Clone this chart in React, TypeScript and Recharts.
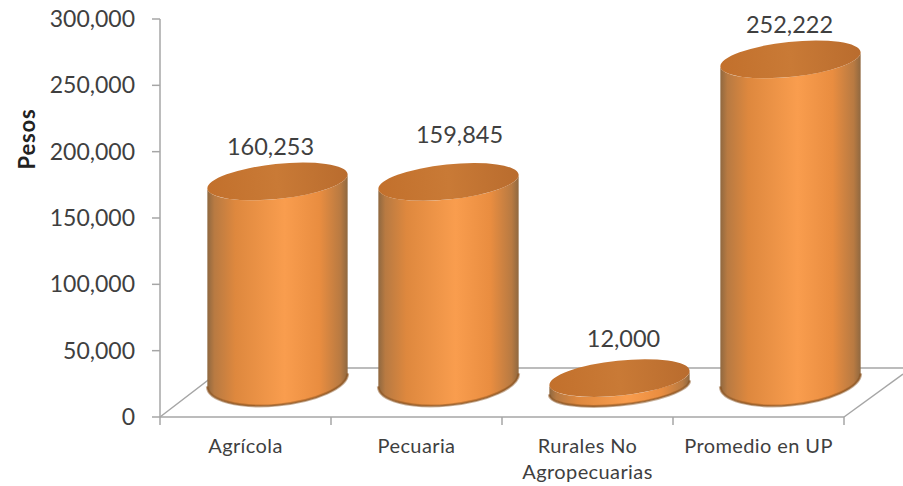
import { Bar, BarChart, LabelList, XAxis, YAxis, usePlotArea } from 'recharts';

const categories = ['Agrícola', 'Pecuaria', 'Rurales No Agropecuarias', 'Promedio en UP'];
const values = [160253, 159845, 12000, 252222];
const yTicks = [0, 50000, 100000, 150000, 200000, 250000, 300000];

const data = categories.map((name, i) => ({ name, value: values[i] }));

const GRID = '#A6A6A6';
const TEXT = '#3F3F3F';
const FONT = 'Lato, "Open Sans", sans-serif';

// 3d look: the cylinders sit back and up from the flat axis position
const DEPTH_X = 32;
const DEPTH_Y = 23;
const TILT = -6;
const RY_TOP = 17.5;
const BAND = 171;
// data labels were dragged by hand in the original
const LABEL_NUDGE = [[-7, -32], [11, -45], [4, -37], [-1, -32]];

const fmt = (v: number) => v.toLocaleString('en-US');

// where the side walls touch a tilted ellipse
const tangent = (rx: number, ry: number) => {
  const t = (-TILT * Math.PI) / 180;
  const ext = Math.sqrt(rx * rx * Math.cos(t) ** 2 + ry * ry * Math.sin(t) ** 2);
  return { ext, dy: ((rx * rx - ry * ry) * Math.sin(t) * Math.cos(t)) / ext };
};

// floor of the 3d chart + axis title
function Floor() {
  const plot = usePlotArea();
  if (!plot) return null;
  const bottom = plot.y + plot.height;
  const left = plot.x;
  const right = plot.x + plot.width;
  const backY = bottom - 49;
  return (
    <g fill="none" stroke={GRID} strokeWidth={1.5}>
      <path d={`M${left} ${bottom} L${left + 64} ${backY} L903 ${backY}`} />
      <path d={`M${right} ${bottom} L${right + 59} ${bottom - 43}`} />
      <text
        x={0}
        y={0}
        transform="translate(35 139) rotate(-90)"
        textAnchor="middle"
        fontFamily={FONT}
        fontWeight={700}
        fontSize={22}
        letterSpacing={0.8}
        fill="#222"
        stroke="none"
      >
        Pesos
      </text>
    </g>
  );
}

function Cylinder({ x, y, width, height }: any) {
  const cx = x + width / 2 + DEPTH_X;
  const rx = width / 2;
  const topY = y - DEPTH_Y;
  // tall cylinders show a rounder base than the flat disc
  const ryBase = height > 100 ? 25 : RY_TOP;
  const baseY = y + height - 12 - ryBase;
  const top = tangent(rx, RY_TOP);
  const base = tangent(rx, ryBase);
  const lx = cx - top.ext;
  const rr = cx + top.ext;
  const blx = cx - base.ext;
  const brr = cx + base.ext;
  const body = `M${lx} ${topY + top.dy} L${blx} ${baseY + base.dy} A${rx} ${ryBase} ${TILT} 0 0 ${brr} ${baseY - base.dy} L${rr} ${topY - top.dy} A${rx} ${RY_TOP} ${TILT} 0 1 ${lx} ${topY + top.dy} Z`;
  const edge = `M${blx} ${baseY + base.dy} A${rx} ${ryBase} ${TILT} 0 0 ${brr} ${baseY - base.dy}`;
  return (
    <g>
      <path d={body} fill="url(#cylBody)" />
      <path d={edge} fill="none" stroke="#8A5220" strokeWidth={3} strokeOpacity={0.45} />
      <path d={edge} fill="none" stroke="#8A5220" strokeWidth={1.2} strokeOpacity={0.7} />
      <ellipse
        cx={cx}
        cy={topY}
        rx={rx}
        ry={RY_TOP}
        fill="url(#cylTop)"
        transform={`rotate(${TILT} ${cx} ${topY})`}
      />
    </g>
  );
}

function CategoryTick({ x, y, payload, index }: any) {
  const words = String(payload.value).split(' ');
  const lines = words.length === 3 && words[2].length > 10 ? [words.slice(0, 2).join(' '), words[2]] : [payload.value];
  const isLast = index === categories.length - 1;
  return (
    <g>
      <line x1={x - BAND / 2} x2={x - BAND / 2} y1={y} y2={y + 8} stroke={GRID} strokeWidth={1.5} />
      {isLast && <line x1={x + BAND / 2} x2={x + BAND / 2} y1={y} y2={y + 8} stroke={GRID} strokeWidth={1.5} />}
      {lines.map((line: string, i: number) => (
        <text
          key={i}
          x={x}
          y={y + 36 + i * 26}
          textAnchor="middle"
          fontFamily={FONT}
          fontSize={20}
          letterSpacing={0.4}
          fill={TEXT}
        >
          {line}
        </text>
      ))}
    </g>
  );
}

function ValueLabel({ x, y, width, value, index }: any) {
  const [dx, dy] = LABEL_NUDGE[index];
  return (
    <text
      x={x + width / 2 + DEPTH_X + dx}
      y={y - DEPTH_Y + dy}
      textAnchor="middle"
      dominantBaseline="middle"
      fontFamily={FONT}
      fontSize={23.5}
      fill={TEXT}
    >
      {fmt(value)}
    </text>
  );
}

export default function App() {
  return (
    <div style={{ position: 'absolute', left: 0, top: 0, width: 903, height: 486, background: '#fff', overflow: 'hidden' }}>
      <BarChart width={903} height={486} data={data} margin={{ top: 19, right: 59, bottom: 0, left: 0 }} barSize={141}>
        <defs>
          <linearGradient id="cylBody" x1="0" x2="1" y1="0" y2="0">
            <stop offset="0" stopColor="#8F6840" />
            <stop offset="0.05" stopColor="#B87A42" />
            <stop offset="0.2" stopColor="#DE883E" />
            <stop offset="0.55" stopColor="#F99D4E" />
            <stop offset="0.8" stopColor="#E98D40" />
            <stop offset="0.95" stopColor="#B87A42" />
            <stop offset="1" stopColor="#8F6840" />
          </linearGradient>
          <linearGradient id="cylTop" x1="0" x2="1" y1="0" y2="0">
            <stop offset="0" stopColor="#C2702C" />
            <stop offset="0.5" stopColor="#C97A36" />
            <stop offset="1" stopColor="#B96C2E" />
          </linearGradient>
        </defs>
        <Floor />
        <XAxis
          dataKey="name"
          axisLine={{ stroke: GRID, strokeWidth: 1.5 }}
          tickLine={false}
          tickSize={0}
          tickMargin={0}
          height={69}
          interval={0}
          tick={<CategoryTick />}
        />
        <YAxis
          width={160}
          domain={[0, 300000]}
          ticks={yTicks}
          tickFormatter={fmt}
          axisLine={{ stroke: GRID, strokeWidth: 1.5 }}
          tickLine={{ stroke: GRID, strokeWidth: 1.5 }}
          tickSize={8}
          tickMargin={17}
          tick={{ fontFamily: FONT, fontSize: 23, fill: TEXT }}
        />
        <Bar dataKey="value" shape={<Cylinder />} isAnimationActive={false}>
          <LabelList dataKey="value" content={<ValueLabel />} />
        </Bar>
      </BarChart>
    </div>
  );
}
